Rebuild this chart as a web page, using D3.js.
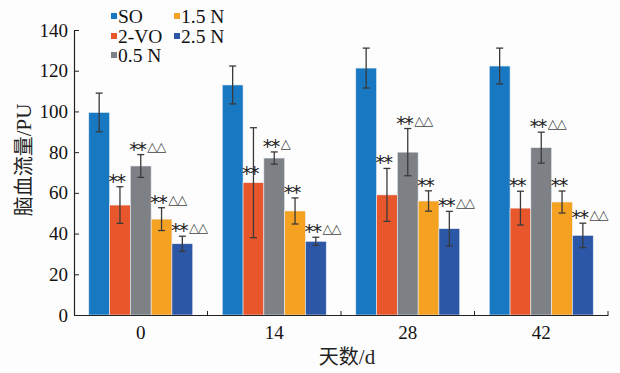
<!DOCTYPE html>
<html><head><meta charset="utf-8">
<script src="https://cdn.jsdelivr.net/npm/d3@7"></script>
<style>body{margin:0;background:#fdfdfd}svg{display:block}
.serif{font-family:"Liberation Serif","DejaVu Serif",serif}
.cjk{font-family:"Noto Sans CJK SC",sans-serif}
</style>
</head><body>
<svg id="c" width="620" height="373"></svg>
<script>
const days = ["0", "14", "28", "42"];
const groups = ["SO", "2-VO", "0.5 N", "1.5 N", "2.5 N"];
const colors = ["#1878c2", "#e8562b", "#7d8186", "#f5a223", "#2c56a6"];
const meanSO   = [99.5, 113, 121.3, 122.3];
const mean2VO  = [54, 65, 59, 52.5];
const mean05N  = [73.2, 77.1, 80, 82.2];
const mean15N  = [47.1, 51.1, 56, 55.5];
const mean25N  = [35, 36.2, 42.4, 39.1];
const errSO    = [9.5, 9.3, 9.8, 8.8];
const err2VO   = [9, 27, 13, 8.3];
const err05N   = [5.6, 3, 11.6, 7.6];
const err15N   = [5.6, 6.4, 5, 5.4];
const err25N   = [3.7, 2, 8.5, 6];
const labelsSO  = ["", "", "", ""];
const labels2VO = ["**", "**", "**", "**"];
const labels05N = ["**△△", "**△", "**△△", "**△△"];
const labels15N = ["**△△", "**", "**", "**"];
const labels25N = ["**△△", "**△△", "**△△", "**△△"];
const yTicks = [0, 20, 40, 60, 80, 100, 120, 140];

const means = [meanSO, mean2VO, mean05N, mean15N, mean25N];
const errs = [errSO, err2VO, err05N, err15N, err25N];
const labs = [labelsSO, labels2VO, labels05N, labels15N, labels25N];

const svg = d3.select("#c");
const L = 74, R = 608, T = 30, B = 315;
const x0 = d3.scaleBand().domain(days).range([L, R]).padding(0);
const x1 = d3.scaleBand().domain(groups).range([0, x0.bandwidth()]).paddingInner(0).paddingOuter(0.71);
const y = d3.scaleLinear().domain([0, 140]).range([B, T]);

const data = [];
days.forEach((d, i) => groups.forEach((g, j) => data.push({d, g, j, v: means[j][i], e: errs[j][i], lab: labs[j][i]})));

// bars
svg.append("g").selectAll("rect").data(data).join("rect")
  .attr("x", p => x0(p.d) + x1(p.g))
  .attr("y", p => y(p.v))
  .attr("width", x1.bandwidth())
  .attr("height", p => y(0) - y(p.v))
  .attr("fill", p => colors[p.j])
  .attr("stroke", "#e8eef5").attr("stroke-width", 0.6);

// error bars
const eg = svg.append("g").attr("stroke", "#3a3a3a").attr("stroke-width", 1.3).attr("fill", "none");
data.forEach(p => {
  const cx = x0(p.d) + x1(p.g) + x1.bandwidth() / 2;
  const y1 = y(p.v + p.e), y2 = y(p.v - p.e);
  eg.append("line").attr("x1", cx).attr("x2", cx).attr("y1", y1).attr("y2", y2);
  eg.append("line").attr("x1", cx - 3.5).attr("x2", cx + 3.5).attr("y1", y1).attr("y2", y1);
  eg.append("line").attr("x1", cx - 3.5).attr("x2", cx + 3.5).attr("y1", y2).attr("y2", y2);
});

// annotations
const ag = svg.append("g");
data.filter(p => p.lab).forEach(p => {
  const top = p.e > 20 ? p.v + 2 : p.v + p.e;
  const bx = x0(p.d) + x1(p.g) - 1;
  const t = ag.append("text").attr("x", bx).attr("y", y(top) - 5).attr("fill", "#222");
  const stars = p.lab.replace(/△/g, "");
  const tri = p.lab.replace(/\*/g, "");
  t.append("tspan").text(stars).style("font-family", "'DejaVu Sans',sans-serif").attr("font-size", 19).attr("dy", 6).attr("letter-spacing", -1.5);
  if (tri) t.append("tspan").text(tri).style("font-family", "'DejaVu Sans',sans-serif").attr("font-size", 13).attr("fill", "#444").attr("dy", -5).attr("dx", 2).attr("letter-spacing", -1);
});

// y axis
const yAxis = d3.axisLeft(y).tickValues(yTicks).tickSizeInner(-5).tickSizeOuter(0).tickPadding(6);
const ya = svg.append("g").attr("transform", `translate(${L},0)`).call(yAxis);
ya.select(".domain").attr("stroke", "#222").attr("stroke-width", 1.2);
ya.selectAll(".tick line").attr("stroke", "#222");
ya.selectAll("text").attr("class", "serif").attr("font-size", 19).attr("fill", "#111");

// x axis
const xAxis = d3.axisBottom(x0).tickSize(0).tickPadding(8);
const xa = svg.append("g").attr("transform", `translate(0,${B})`).call(xAxis);
xa.select(".domain").attr("stroke", "#222").attr("stroke-width", 1.2);
xa.selectAll("text").attr("class", "serif").attr("font-size", 19).attr("fill", "#111").attr("dy", "0.85em");
xa.selectAll(".sep").data(days).join("line").attr("class", "sep")
  .attr("x1", d => x0(d) + x0.bandwidth()).attr("x2", d => x0(d) + x0.bandwidth())
  .attr("y1", 0).attr("y2", -4).attr("stroke", "#222");

// axis titles
const yt = svg.append("text").attr("transform", `translate(31,160) rotate(-90)`)
  .attr("text-anchor", "middle").attr("font-size", 20).attr("fill", "#222");
yt.append("tspan").attr("class", "cjk").text("脑血流量");
yt.append("tspan").attr("class", "serif").attr("font-size", 21).text("/PU");
const xt = svg.append("text").attr("x", 347).attr("y", 364).attr("text-anchor", "middle")
  .attr("font-size", 20).attr("fill", "#222");
xt.append("tspan").attr("class", "cjk").text("天数");
xt.append("tspan").attr("class", "serif").attr("font-size", 21).text("/d");

// legend
const legPos = [[111, 16], [111, 36], [111, 55], [174, 16], [174, 36]];
const lg = svg.append("g");
groups.forEach((g, j) => {
  const [lx, ly] = legPos[j];
  lg.append("rect").attr("x", lx).attr("y", ly - 3).attr("width", 6).attr("height", 6).attr("fill", colors[j]);
  lg.append("text").attr("class", "serif").attr("x", lx + 7).attr("y", ly + 6.5).attr("font-size", 19.5).attr("fill", "#111").text(g);
});
</script>
</body></html>
